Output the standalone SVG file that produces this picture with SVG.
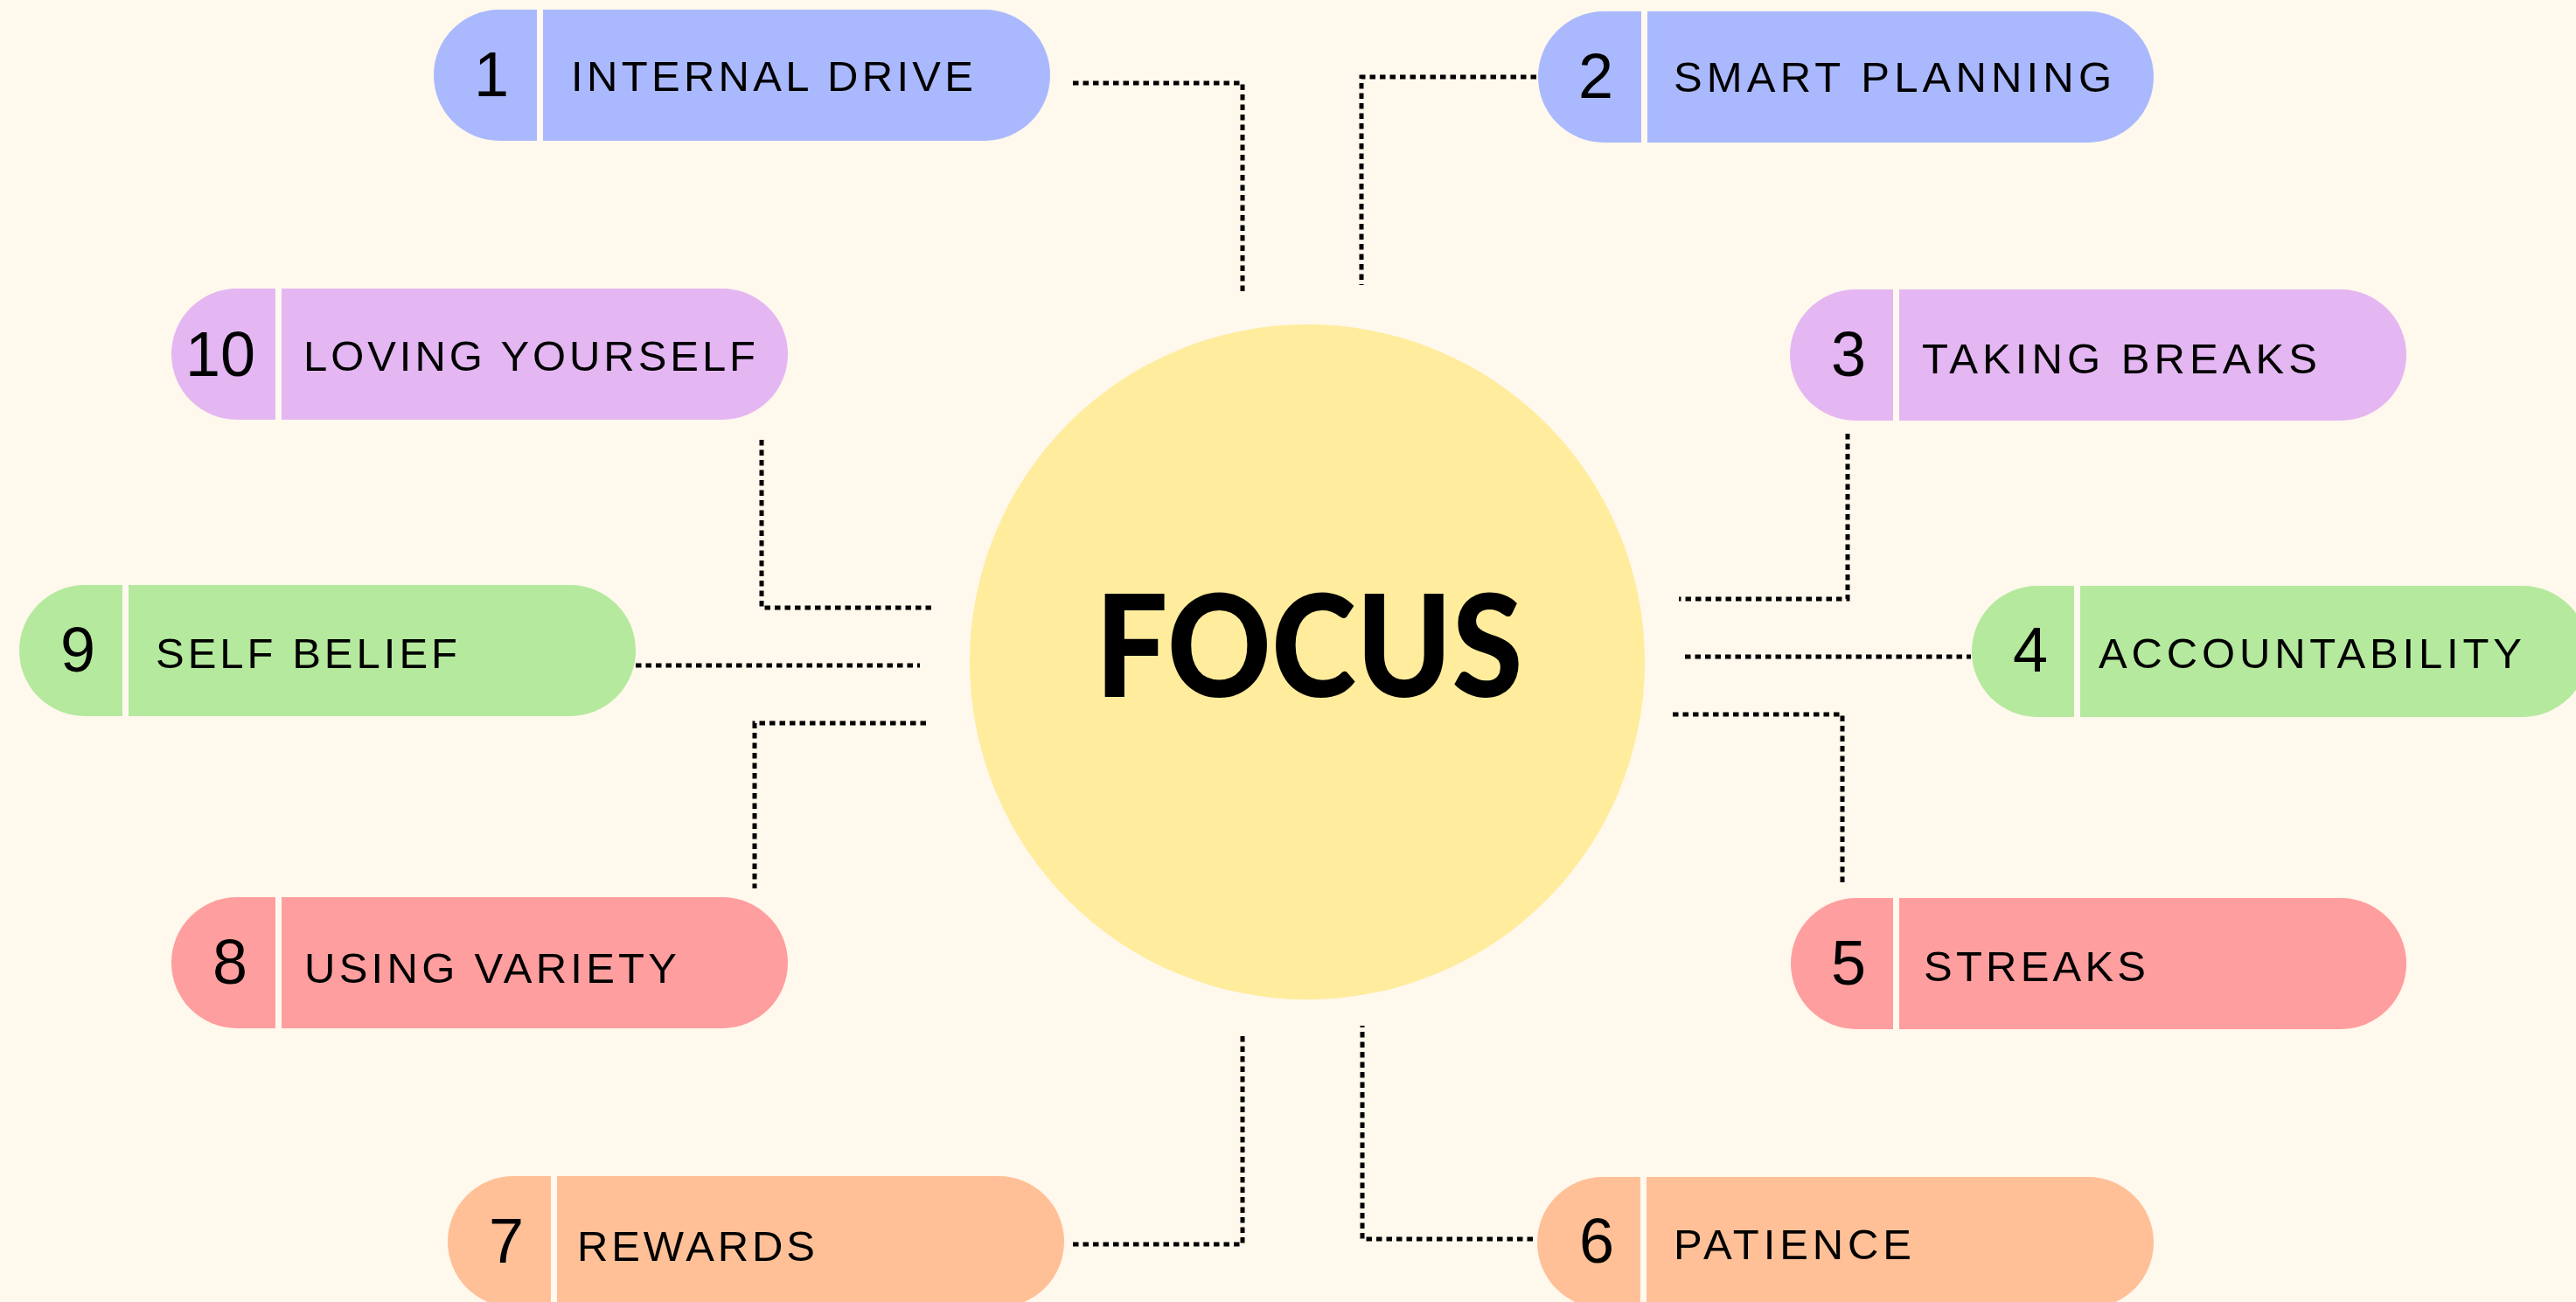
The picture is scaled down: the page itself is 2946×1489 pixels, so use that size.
<svg xmlns="http://www.w3.org/2000/svg" width="2946" height="1489" viewBox="0 0 2946 1489">
<style>
.bg{fill:#FFF8EC}
.blue{fill:#AAB9FE}
.purple{fill:#E4B7F3}
.green{fill:#B4E99E}
.pink{fill:#FF9E9E}
.orange{fill:#FFC097}
.div{fill:#FFF9F0}
.num{font-family:"Liberation Sans",Arial,sans-serif;font-size:72px;fill:#000;text-anchor:middle}
.lbl{font-family:"Liberation Sans",Arial,sans-serif;font-size:49px;fill:#000;letter-spacing:4px}
.con{fill:none;stroke:#000;stroke-width:5;stroke-dasharray:6.5 5}
.focus{font-family:Lato,"Open Sans",sans-serif;font-weight:900;font-size:162px;fill:#000;text-anchor:middle}
</style>
<rect class="bg" x="0" y="0" width="2946" height="1489"/>

<g id="connectors">
<path class="con" d="M1227,95 H1421 V338"/>
<path class="con" d="M1757,88 H1557 V326"/>
<path class="con" d="M871,503 V695 H1065"/>
<path class="con" d="M727,761 H1052"/>
<path class="con" d="M1059,827 H863 V1016"/>
<path class="con" d="M2113,496 V685 H1920"/>
<path class="con" d="M1927,751 H2254"/>
<path class="con" d="M1913,817 H2107 V1011"/>
<path class="con" d="M1227,1423 H1421 V1184"/>
<path class="con" d="M1753,1417 H1558 V1173"/>
</g>

<g id="focus">
<circle cx="1495" cy="757" r="386" fill="#FFEC9D"/>
<text class="focus" x="1497" y="797" textLength="489" lengthAdjust="spacingAndGlyphs">FOCUS</text>
</g>

<g id="node1">
<rect class="blue" x="496" y="11" width="705" height="150" rx="75"/>
<rect class="div" x="614" y="11" width="7" height="150"/>
<text class="num" x="562" y="110">1</text>
<text class="lbl" x="653" y="104" textLength="464">INTERNAL DRIVE</text>
</g>

<g id="node2">
<rect class="blue" x="1759" y="13" width="704" height="150" rx="75"/>
<rect class="div" x="1877" y="13" width="7" height="150"/>
<text class="num" x="1825" y="112">2</text>
<text class="lbl" x="1914" y="105" textLength="505">SMART PLANNING</text>
</g>

<g id="node3">
<rect class="purple" x="2047" y="331" width="705" height="150" rx="75"/>
<rect class="div" x="2165" y="331" width="7" height="150"/>
<text class="num" x="2114" y="430">3</text>
<text class="lbl" x="2198" y="427" textLength="456">TAKING BREAKS</text>
</g>

<g id="node4">
<rect class="green" x="2255" y="670" width="705" height="150" rx="75"/>
<rect class="div" x="2372" y="670" width="7" height="150"/>
<text class="num" x="2322" y="768">4</text>
<text class="lbl" x="2400" y="764" textLength="488">ACCOUNTABILITY</text>
</g>

<g id="node5">
<rect class="pink" x="2048" y="1027" width="704" height="150" rx="75"/>
<rect class="div" x="2165" y="1027" width="7" height="150"/>
<text class="num" x="2114" y="1126">5</text>
<text class="lbl" x="2200" y="1122" textLength="258">STREAKS</text>
</g>

<g id="node6">
<rect class="orange" x="1758" y="1346" width="705" height="150" rx="75"/>
<rect class="div" x="1876" y="1346" width="7" height="150"/>
<text class="num" x="1826" y="1444">6</text>
<text class="lbl" x="1914" y="1440" textLength="276">PATIENCE</text>
</g>

<g id="node7">
<rect class="orange" x="512" y="1345" width="705" height="150" rx="75"/>
<rect class="div" x="630" y="1345" width="7" height="150"/>
<text class="num" x="579" y="1444">7</text>
<text class="lbl" x="660" y="1442" textLength="276">REWARDS</text>
</g>

<g id="node8">
<rect class="pink" x="196" y="1026" width="705" height="150" rx="75"/>
<rect class="div" x="315" y="1026" width="7" height="150"/>
<text class="num" x="263" y="1125">8</text>
<text class="lbl" x="348" y="1124" textLength="430">USING VARIETY</text>
</g>

<g id="node9">
<rect class="green" x="22" y="669" width="705" height="150" rx="75"/>
<rect class="div" x="140" y="669" width="7" height="150"/>
<text class="num" x="89" y="768">9</text>
<text class="lbl" x="178" y="764" textLength="349">SELF BELIEF</text>
</g>

<g id="node10">
<rect class="purple" x="196" y="330" width="705" height="150" rx="75"/>
<rect class="div" x="315" y="330" width="7" height="150"/>
<text class="num" x="252" y="430">10</text>
<text class="lbl" x="347" y="424" textLength="521">LOVING YOURSELF</text>
</g>
</svg>
